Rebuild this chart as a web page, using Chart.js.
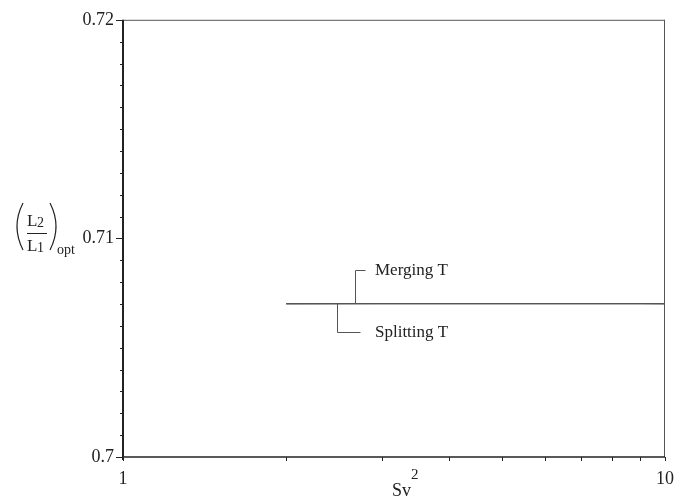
<!DOCTYPE html>
<html>
<head>
<meta charset="utf-8">
<script src="https://cdn.jsdelivr.net/npm/chart.js@4/dist/chart.umd.min.js"></script>
<style>
  html, body { margin: 0; padding: 0; background: #fff; }
  #wrap { width: 688px; height: 497px; }
</style>
</head>
<body>
<div id="wrap"><canvas id="chart"></canvas></div>
<script>
// ─── Data ───
const sv2 = [2, 3, 4, 5, 6, 7, 8, 9, 10];
const mergingT = [0.70702, 0.70702, 0.70702, 0.70702, 0.70702, 0.70702, 0.70702, 0.70702, 0.70702];
const splittingT = [0.70700, 0.70701, 0.70701, 0.70701, 0.70701, 0.70701, 0.70701, 0.70701, 0.70700];
const yLabels = [0.7, 0.71, 0.72];
const xLabels = [1, 10];
const seriesNames = ['Merging T', 'Splitting T'];
// where the leader lines leave the curve (Sv^2 value)
const leaderAt = [2.68, 2.48];

const SERIF = "'Liberation Serif', 'DejaVu Serif', serif";
const INK = '#222';
const LINE = '#555';

/**
 * Frame, tick marks, axis titles and the two callouts.
 */
const decorations = {
    id: 'decorations',
    afterDraw: (chart) => {
        const { ctx, chartArea: a, scales } = chart;
        const xs = scales.x, ys = scales.y;
        ctx.save();

        // frame
        ctx.strokeStyle = LINE;
        ctx.lineWidth = 1;
        ctx.beginPath();
        ctx.moveTo(a.left, a.top + 0.5); ctx.lineTo(a.right, a.top + 0.5);
        ctx.moveTo(a.right - 0.5, a.top); ctx.lineTo(a.right - 0.5, a.bottom);
        ctx.stroke();
        ctx.strokeStyle = INK;
        ctx.lineWidth = 1.5;
        ctx.beginPath();
        ctx.moveTo(a.left, a.bottom); ctx.lineTo(a.right, a.bottom);
        ctx.stroke();
        ctx.lineWidth = 2;
        ctx.beginPath();
        ctx.moveTo(a.left, a.top); ctx.lineTo(a.left, a.bottom + 3);
        ctx.stroke();

        // y ticks (outside, left)
        ctx.lineWidth = 1;
        ys.ticks.forEach(t => {
            const y = Math.round(ys.getPixelForValue(t.value)) + 0.5;
            const major = yLabels.some(v => Math.abs(v - t.value) < 1e-6);
            ctx.beginPath();
            ctx.moveTo(a.left - (major ? 7 : 3), y);
            ctx.lineTo(a.left, y);
            ctx.stroke();
        });
        // x ticks (outside, below)
        xs.ticks.forEach(t => {
            const x = Math.round(xs.getPixelForValue(t.value)) + 0.5;
            ctx.beginPath();
            ctx.moveTo(x, a.bottom);
            ctx.lineTo(x, a.bottom + 4);
            ctx.stroke();
        });

        // callouts
        ctx.strokeStyle = LINE;
        ctx.lineWidth = 1;
        ctx.fillStyle = INK;
        ctx.font = '17px ' + SERIF;
        ctx.textBaseline = 'middle';
        const yM = ys.getPixelForValue(mergingT[1]);
        const xM = Math.round(xs.getPixelForValue(leaderAt[0])) + 0.5;
        ctx.beginPath();
        ctx.moveTo(xM, yM); ctx.lineTo(xM, 270.5); ctx.lineTo(xM + 10, 270.5);
        ctx.stroke();
        ctx.fillText(seriesNames[0], 375, 271);

        const yS = ys.getPixelForValue(splittingT[1]);
        const xS = Math.round(xs.getPixelForValue(leaderAt[1])) + 0.5;
        ctx.beginPath();
        ctx.moveTo(xS, yS); ctx.lineTo(xS, 332.5); ctx.lineTo(xS + 23, 332.5);
        ctx.stroke();
        ctx.fillText(seriesNames[1], 375, 333);

        // x title: Sv^2
        ctx.textBaseline = 'alphabetic';
        ctx.font = '18px ' + SERIF;
        ctx.fillText('Sv', 392, 496);
        const w = ctx.measureText('Sv').width;
        ctx.font = '15px ' + SERIF;
        ctx.fillText('2', 392 + w, 479);

        // y title: (L2/L1)opt
        ctx.strokeStyle = INK;
        ctx.lineWidth = 1.2;
        ctx.beginPath();
        ctx.moveTo(23, 203); ctx.quadraticCurveTo(11, 226.5, 23, 250);
        ctx.moveTo(50, 203); ctx.quadraticCurveTo(62, 226.5, 50, 250);
        ctx.stroke();
        ctx.lineWidth = 1;
        ctx.beginPath();
        ctx.moveTo(27, 233.5); ctx.lineTo(47, 233.5);
        ctx.stroke();
        ctx.font = '17px ' + SERIF;
        ctx.fillText('L', 27, 226);
        ctx.fillText('L', 27, 251);
        ctx.font = '14px ' + SERIF;
        ctx.fillText('2', 37, 227);
        ctx.fillText('1', 37, 252);
        ctx.font = '14px ' + SERIF;
        ctx.fillText('opt', 57, 254);

        ctx.restore();
    },
};

new Chart(document.getElementById('chart'), {
    type: 'line',
    data: {
        datasets: [
            {
                label: seriesNames[0],
                data: sv2.map((x, i) => ({ x, y: mergingT[i] })),
                borderColor: LINE,
                borderWidth: 1.3,
                pointRadius: 0,
                tension: 0,
            },
            {
                label: seriesNames[1],
                data: sv2.map((x, i) => ({ x, y: splittingT[i] })),
                borderColor: LINE,
                borderWidth: 1,
                pointRadius: 0,
                tension: 0,
            },
        ],
    },
    options: {
        responsive: true,
        maintainAspectRatio: false,
        animation: false,
        layout: { padding: { top: 16, right: 23, left: 0, bottom: 0 } },
        plugins: {
            legend: { display: false },
            tooltip: { enabled: false },
        },
        scales: {
            x: {
                type: 'logarithmic',
                min: 1,
                max: 10,
                grid: { display: false, drawTicks: false },
                border: { display: false },
                ticks: {
                    autoSkip: false,
                    maxRotation: 0,
                    padding: 11,
                    color: INK,
                    font: { family: SERIF, size: 18 },
                    callback: v => (xLabels.includes(v) ? String(v) : ''),
                },
                // keep only the whole-number decades 1..10
                afterBuildTicks: s => {
                    s.ticks = s.ticks.filter(t => Math.abs(t.value - Math.round(t.value)) < 1e-9);
                },
                afterFit: s => { s.height = 40; },
            },
            y: {
                min: 0.7,
                max: 0.72,
                grid: { display: false, drawTicks: false },
                border: { display: false },
                ticks: {
                    stepSize: 0.001,
                    maxTicksLimit: 100,
                    autoSkip: false,
                    padding: 9,
                    color: INK,
                    font: { family: SERIF, size: 18 },
                    callback: v => {
                        const hit = yLabels.find(l => Math.abs(l - v) < 1e-6);
                        return hit !== undefined ? String(hit) : '';
                    },
                },
                afterFit: s => { s.width = 123; },
            },
        },
    },
    plugins: [decorations],
});
</script>
</body>
</html>
